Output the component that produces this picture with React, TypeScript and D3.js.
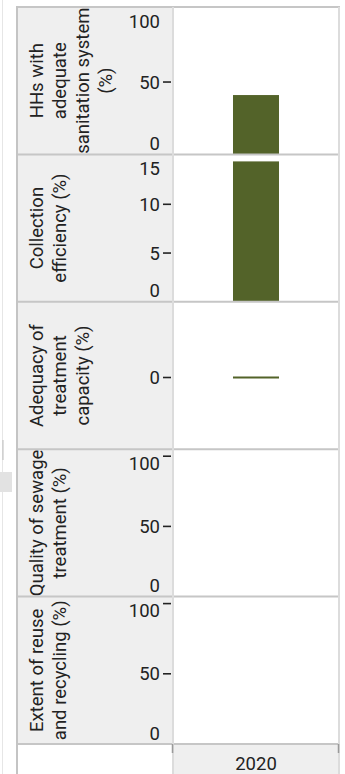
import React from "react";
import * as d3 from "d3";

const panelTitles: string[][] = [
  ["HHs with", "adequate", "sanitation system", "(%)"],
  ["Collection", "efficiency (%)"],
  ["Adequacy of", "treatment", "capacity (%)"],
  ["Quality of sewage", "treatment (%)"],
  ["Extent of reuse", "and recycling (%)"],
];
const years = ["2020"];
const values: (number | null)[] = [41, 14.4, 0, null, null];
const domainMax = [97, 14.4, 0, 100, 100];
const tickValues: number[][] = [
  [0, 50, 100],
  [0, 5, 10, 15],
  [0],
  [0, 50, 100],
  [0, 50, 100],
];

const W = 345;
const H = 774;
const X0 = 17;
const XL = 173;
const XR = 339;
const TOP = 7;
const BOTTOM = 744;
const FONT = "Roboto, 'Noto Sans', sans-serif";
const BAR = "#536329";

export default function App() {
  const n = panelTitles.length;
  const panelH = (BOTTOM - TOP) / n;
  const x = d3.scaleBand<string>().domain(years).range([XL, XR]).padding(0.566);

  return (
    <svg
      width={W}
      height={H}
      style={{ position: "absolute", left: 0, top: 0, background: "#fff" }}
      fontFamily={FONT}
    >
      <rect x={0} y={0} width={W} height={H} fill="#fff" />
      {/* faint artifacts at far left */}
      <line x1={2.5} x2={2.5} y1={0} y2={H} stroke="#e6e6e6" strokeWidth={1} />
      <rect x={0} y={472} width={12} height={20} fill="#e2e2e2" />
      <line x1={3} x2={3} y1={440} y2={460} stroke="#bdbdbd" strokeWidth={1} />

      {/* label background */}
      <rect x={X0} y={TOP} width={XL - X0} height={BOTTOM - TOP} fill="#efefef" />
      {/* bottom x strip */}
      <rect x={XL} y={BOTTOM} width={XR - XL} height={H - BOTTOM} fill="#efefef" />

      {panelTitles.map((lines, i) => {
        const top = TOP + i * panelH;
        const bottom = top + panelH;
        const mid = (top + bottom) / 2;
        const dmax = domainMax[i];
        const y = d3.scaleLinear().domain([0, dmax]).range([bottom, top + 7]);
        const yPos = (v: number) => (dmax === 0 ? mid + 2 : y(v));
        const v = values[i];
        return (
          <g key={i}>
            {/* axis title */}
            <text
              transform={`translate(43,${mid}) rotate(-90)`}
              textAnchor="middle"
              fontSize={18.5}
              fill="#222"
            >
              {lines.map((l, j) => (
                <tspan key={j} x={0} dy={j === 0 ? 0 : 23}>
                  {l}
                </tspan>
              ))}
            </text>
            {/* ticks */}
            {tickValues[i].map((t) => {
              const ty = yPos(t);
              let ly = ty;
              if (ly < top + 14) ly = top + 14;
              if (ly > bottom - 11) ly = bottom - 11;
              const inside = t <= dmax && ty > top + 2 && ty < bottom - 2;
              return (
                <g key={t}>
                  {inside && (
                    <line x1={163} x2={171} y1={ty} y2={ty} stroke="#222" strokeWidth={1.6} />
                  )}
                  <text
                    x={160}
                    y={ly}
                    dy="0.36em"
                    textAnchor="end"
                    fontSize={18.5}
                    fill="#222"
                  >
                    {t}
                  </text>
                </g>
              );
            })}
            {/* bar */}
            {v !== null && (
              dmax === 0 ? (
                <rect
                  x={x(years[0])}
                  y={yPos(0) - 1}
                  width={x.bandwidth()}
                  height={2}
                  fill={BAR}
                />
              ) : (
                <rect
                  x={x(years[0])}
                  y={y(v)}
                  width={x.bandwidth()}
                  height={bottom - y(v)}
                  fill={BAR}
                />
              )
            )}
          </g>
        );
      })}

      {/* separators */}
      {d3.range(n + 1).map((i) => {
        const yy = TOP + i * panelH;
        return (
          <line key={i} x1={X0} x2={XR + 1} y1={yy} y2={yy} stroke="#c6c6c6" strokeWidth={2} />
        );
      })}
      <line x1={X0} x2={X0} y1={TOP - 1} y2={H} stroke="#c4c4c4" strokeWidth={2} />
      <line x1={XL} x2={XL} y1={TOP} y2={H} stroke="#dcdcdc" strokeWidth={2} />
      <line x1={XR} x2={XR} y1={TOP} y2={H} stroke="#dcdcdc" strokeWidth={2} />
      <line x1={XL - 0.5} x2={XL - 0.5} y1={BOTTOM} y2={BOTTOM + 9} stroke="#9a9a9a" strokeWidth={1.5} />
      <line x1={XR - 0.5} x2={XR - 0.5} y1={BOTTOM} y2={BOTTOM + 9} stroke="#9a9a9a" strokeWidth={1.5} />

      {/* x label */}
      {years.map((yr) => (
        <text
          key={yr}
          x={(x(yr) as number) + x.bandwidth() / 2}
          y={763}
          dy="0.36em"
          textAnchor="middle"
          fontSize={18.5}
          fill="#222"
        >
          {yr}
        </text>
      ))}
    </svg>
  );
}
